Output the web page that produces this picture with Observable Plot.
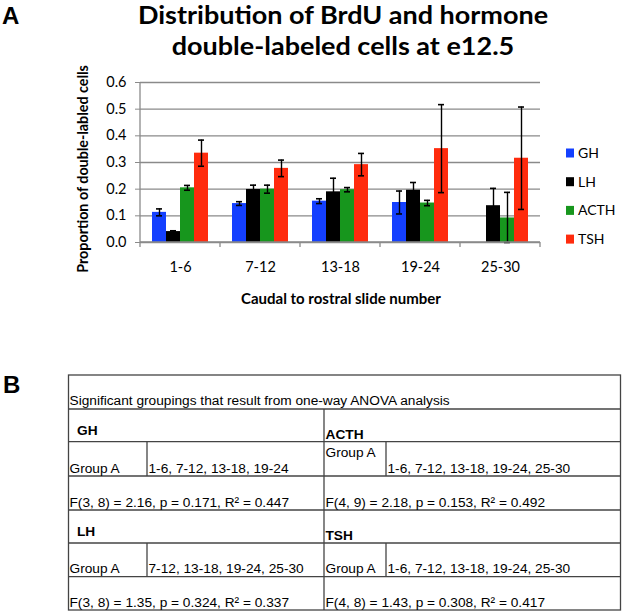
<!DOCTYPE html>
<html><head><meta charset="utf-8">
<script src="https://cdn.jsdelivr.net/npm/d3@7"></script>
<script src="https://cdn.jsdelivr.net/npm/@observablehq/plot@0.6"></script>
<style>
body{margin:0;background:#fff;width:624px;height:613px;overflow:hidden}
#chart{position:absolute;left:0;top:0}
#chart text{fill:#000}
</style></head><body>
<div id="chart"></div>
<script>
// ---- data ----
const groups = ["1-6", "7-12", "13-18", "19-24", "25-30"];
const series = ["GH", "LH", "ACTH", "TSH"];
const colors = ["#1440ff", "#000000", "#17961d", "#ff2b0d"];
const ghMean   = [0.113, 0.146, 0.155, 0.150, null];
const ghErr    = [0.013, 0.007, 0.009, 0.043, null];
const lhMean   = [0.041, 0.199, 0.190, 0.196, 0.138];
const lhErr    = [0.003, 0.016, 0.051, 0.029, 0.065];
const acthMean = [0.205, 0.200, 0.198, 0.148, 0.092];
const acthErr  = [0.009, 0.015, 0.008, 0.010, 0.096];
const tshMean  = [0.335, 0.278, 0.292, 0.352, 0.316];
const tshErr   = [0.049, 0.031, 0.042, 0.165, 0.192];
const yTickValues = [0, 0.1, 0.2, 0.3, 0.4, 0.5, 0.6];
const titleLines = ["Distribution of BrdU and hormone", "double-labeled cells at e12.5"];
const yLabel = "Proportion of double-labled cells";
const xLabel = "Caudal to rostral slide number";
const tableTitle = "Significant groupings that result from one-way ANOVA analysis";
const tableHormones = ["GH", "ACTH", "LH", "TSH"];
const tableGroups = ["1-6, 7-12, 13-18, 19-24", "1-6, 7-12, 13-18, 19-24, 25-30", "7-12, 13-18, 19-24, 25-30", "1-6, 7-12, 13-18, 19-24, 25-30"];
const tableStats = ["F(3, 8) = 2.16, p = 0.171, R\u00b2 = 0.447", "F(4, 9) = 2.18, p = 0.153, R\u00b2 = 0.492", "F(3, 8) = 1.35, p = 0.324, R\u00b2 = 0.337", "F(4, 8) = 1.43, p = 0.308, R\u00b2 = 0.417"];

const means = [ghMean, lhMean, acthMean, tshMean];
const errs = [ghErr, lhErr, acthErr, tshErr];
const rows = groups.flatMap((g, i) => series.map((s, j) => ({group: g, series: s, value: means[j][i], err: errs[j][i]})))
  .filter(d => d.value != null);

const axisGrey = "#8a8a8a";
const chart = Plot.plot({
  width: 624, height: 613,
  marginLeft: 140, marginRight: 84, marginTop: 82, marginBottom: 371,
  style: {fontFamily: "Lato, sans-serif", fontSize: "14.5px", color: axisGrey, background: "#fff", overflow: "visible"},
  facet: {data: rows, x: "group"},
  fx: {domain: groups, padding: 0, axis: "bottom", tickSize: 0, tickPadding: 19, label: null},
  x: {domain: series, axis: null, paddingInner: 0, paddingOuter: 0.76},
  y: {domain: [0, 0.6], ticks: 6, tickFormat: d3.format(".1f"), tickSize: 5, tickPadding: 9, label: null},
  color: {domain: series, range: colors},
  marks: [
    Plot.ruleY(yTickValues, {stroke: axisGrey, strokeWidth: 1.3}),
    Plot.barY(rows, {x: "series", y: "value", fill: "series"}),
    Plot.ruleX(rows, {x: "series", y1: d => Math.max(0, d.value - d.err), y2: d => d.value + d.err, stroke: "#000", strokeWidth: 1.4}),
    Plot.tickY(rows, {x: "series", y: d => d.value + d.err, stroke: "#000", strokeWidth: 1.6, insetLeft: 4, insetRight: 4}),
    Plot.tickY(rows, {x: "series", y: d => Math.max(0, d.value - d.err), stroke: "#000", strokeWidth: 1.6, insetLeft: 4, insetRight: 4})
  ]
});
document.getElementById("chart").appendChild(chart);
const svg = d3.select(chart.tagName.toLowerCase() === "svg" ? chart : chart.querySelector("svg"));

const fx = chart.scale("fx"), y = chart.scale("y"), color = chart.scale("color");
const y0 = y.apply(0), yTop = y.apply(0.6);
const left = fx.apply(groups[0]), right = fx.apply(groups[groups.length - 1]) + fx.bandwidth;
const ax = svg.append("g").attr("stroke", axisGrey).attr("stroke-width", 1.3);
ax.append("line").attr("x1", left).attr("x2", left).attr("y1", yTop).attr("y2", y0 + 0.5);
ax.append("line").attr("x1", left).attr("x2", right).attr("y1", y0).attr("y2", y0);
[...groups.map(g => fx.apply(g)), right].forEach(x => {
  ax.append("line").attr("x1", x).attr("x2", x).attr("y1", y0).attr("y2", y0 + 5);
});

const T = svg.append("g").attr("fill", "#000").attr("text-anchor", "start");
// panel letters
T.append("text").attr("x", 2).attr("y", 23.5).attr("font-family", "Liberation Sans, Arial, sans-serif").attr("font-weight", "bold").attr("font-size", 24).text("A");
T.append("text").attr("x", 3).attr("y", 393).attr("font-family", "Liberation Sans, Arial, sans-serif").attr("font-weight", "bold").attr("font-size", 24).text("B");
// title
titleLines.forEach((t, i) => T.append("text").attr("transform", `translate(${(left + right) / 2 + 3},${23.5 + i * 31.5}) scale(1.08,1)`).attr("text-anchor", "middle")
  .attr("font-family", "Lato, sans-serif").attr("font-weight", "bold").attr("font-size", 25).text(t));
// axis labels
T.append("text").attr("transform", `translate(88,169) rotate(-90)`).attr("text-anchor", "middle")
  .attr("font-family", "Lato, sans-serif").attr("font-weight", "bold").attr("font-size", 14.3).text(yLabel);
T.append("text").attr("x", (left + right) / 2 + 1).attr("y", 304).attr("text-anchor", "middle")
  .attr("font-family", "Lato, sans-serif").attr("font-weight", "bold").attr("font-size", 15).text(xLabel);
// legend
series.forEach((s, i) => {
  const cy = 153 + i * 28.7;
  T.append("rect").attr("x", 566).attr("y", cy - 4.5).attr("width", 8).attr("height", 9).attr("fill", color.apply(s));
  T.append("text").attr("x", 578).attr("y", cy + 5).attr("font-family", "Lato, sans-serif").attr("font-size", 14).text(s);
});

// table B
const tb = svg.append("g").attr("text-anchor", "start");
const L = 68.5, R = 620.5, M = 324, c1 = 147, c2 = 386;
const hy = [375, 409, 441.7, 476, 510, 543, 576.7, 610];
const ln = tb.append("g").attr("stroke", "#444").attr("stroke-width", 1.3);
ln.append("rect").attr("x", L).attr("y", hy[0]).attr("width", R - L).attr("height", hy[7] - hy[0]).attr("fill", "none");
hy.slice(1, 7).forEach(h => ln.append("line").attr("x1", L).attr("x2", R).attr("y1", h).attr("y2", h));
ln.append("line").attr("x1", M).attr("x2", M).attr("y1", hy[1]).attr("y2", hy[7]);
[[hy[2], hy[3]], [hy[5], hy[6]]].forEach(([a, b]) => {
  ln.append("line").attr("x1", c1).attr("x2", c1).attr("y1", a).attr("y2", b);
  ln.append("line").attr("x1", c2).attr("x2", c2).attr("y1", a).attr("y2", b);
});
const tt = (s, x, yy, bold) => tb.append("text").attr("x", x).attr("y", yy)
  .attr("text-anchor", "start")
  .attr("font-family", "Liberation Sans, Arial, sans-serif").attr("font-size", 13.7).attr("font-weight", bold ? "bold" : "normal")
  .attr("fill", "#000").text(s);
tt(tableTitle, 69.5, 405);
tt(tableHormones[0], 77, 435, true);
tt(tableHormones[1], 325.5, 439, true);
tt("Group A", 69.5, 472.5); tt(tableGroups[0], 148.5, 472.5);
tt("Group A", 325.5, 456.5); tt(tableGroups[1], 387.5, 472.5);
tt(tableStats[0], 69.5, 506.5); tt(tableStats[1], 325.5, 506.5);
tt(tableHormones[2], 77, 536, true);
tt(tableHormones[3], 325.5, 540, true);
tt("Group A", 69.5, 573); tt(tableGroups[2], 148.5, 573);
tt("Group A", 325.5, 573); tt(tableGroups[3], 387.5, 573);
tt(tableStats[2], 69.5, 607); tt(tableStats[3], 325.5, 607);
</script>
</body></html>
